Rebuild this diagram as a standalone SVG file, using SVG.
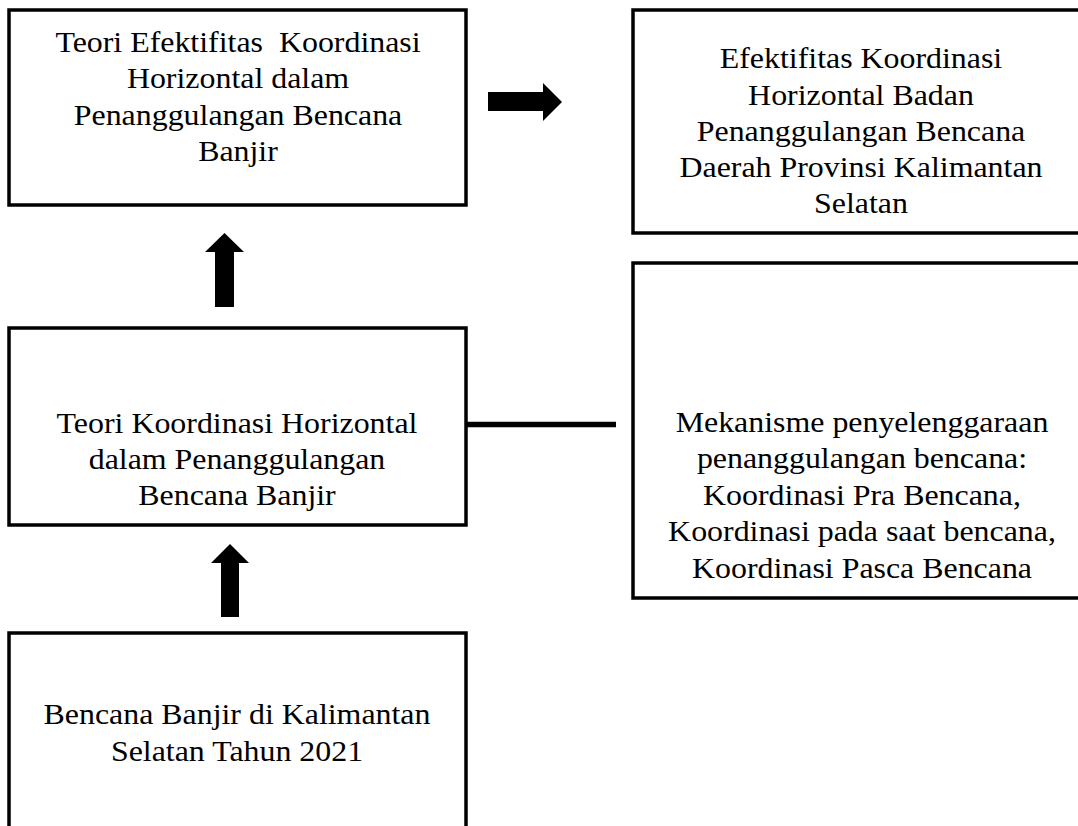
<svg xmlns="http://www.w3.org/2000/svg" width="1078" height="826" viewBox="0 0 1078 826">
<style>
.box{fill:#fff;stroke:#000;stroke-width:3.5}
.t{font-family:"Liberation Serif","Times New Roman",serif;font-size:29px;fill:#000;text-anchor:middle}
.arr{fill:#000;stroke:none}
.ln{stroke:#000;stroke-width:5.5;fill:none}
</style>
<rect width="1078" height="826" fill="#fff"/>
<g id="connectors">
<line class="ln" x1="466" y1="424.5" x2="616" y2="424.5"/>
<polygon class="arr" points="488,92 543,92 543,83 562,102 543,121 543,111 488,111"/>
<polygon class="arr" points="224.5,233 244,252 234,252 234,307 215,307 215,252 205,252"/>
<polygon class="arr" points="230,544 249,563 239,563 239,617 221,617 221,563 211,563"/>
</g>
<g id="node-teori-efektifitas">
<rect class="box" x="9" y="10" width="457" height="195"/>
<g transform="translate(238,0) scale(1.1,1)">
<text class="t" x="0" y="52" xml:space="preserve">Teori Efektifitas  Koordinasi</text>
<text class="t" x="0" y="88.5">Horizontal dalam</text>
<text class="t" x="0" y="125">Penanggulangan Bencana</text>
<text class="t" x="0" y="161.5">Banjir</text>
</g>
</g>
<g id="node-efektifitas-bpbd">
<rect class="box" x="633" y="10" width="457" height="223"/>
<g transform="translate(861,0) scale(1.1,1)">
<text class="t" x="0" y="68">Efektifitas Koordinasi</text>
<text class="t" x="0" y="105">Horizontal Badan</text>
<text class="t" x="0" y="141">Penanggulangan Bencana</text>
<text class="t" x="0" y="177">Daerah Provinsi Kalimantan</text>
<text class="t" x="0" y="213">Selatan</text>
</g>
</g>
<g id="node-teori-koordinasi">
<rect class="box" x="9" y="328" width="457" height="197"/>
<g transform="translate(237,0) scale(1.1,1)">
<text class="t" x="0" y="433">Teori Koordinasi Horizontal</text>
<text class="t" x="0" y="469">dalam Penanggulangan</text>
<text class="t" x="0" y="505">Bencana Banjir</text>
</g>
</g>
<g id="node-mekanisme">
<rect class="box" x="633" y="263" width="457" height="335"/>
<g transform="translate(862,0) scale(1.1,1)">
<text class="t" x="0" y="432">Mekanisme penyelenggaraan</text>
<text class="t" x="0" y="468">penanggulangan bencana:</text>
<text class="t" x="0" y="505">Koordinasi Pra Bencana,</text>
<text class="t" x="0" y="541.5">Koordinasi pada saat bencana,</text>
<text class="t" x="0" y="578">Koordinasi Pasca Bencana</text>
</g>
</g>
<g id="node-bencana-banjir">
<rect class="box" x="9" y="633" width="457" height="210"/>
<g transform="translate(237,0) scale(1.1,1)">
<text class="t" x="0" y="724">Bencana Banjir di Kalimantan</text>
<text class="t" x="0" y="761">Selatan Tahun 2021</text>
</g>
</g>
</svg>
